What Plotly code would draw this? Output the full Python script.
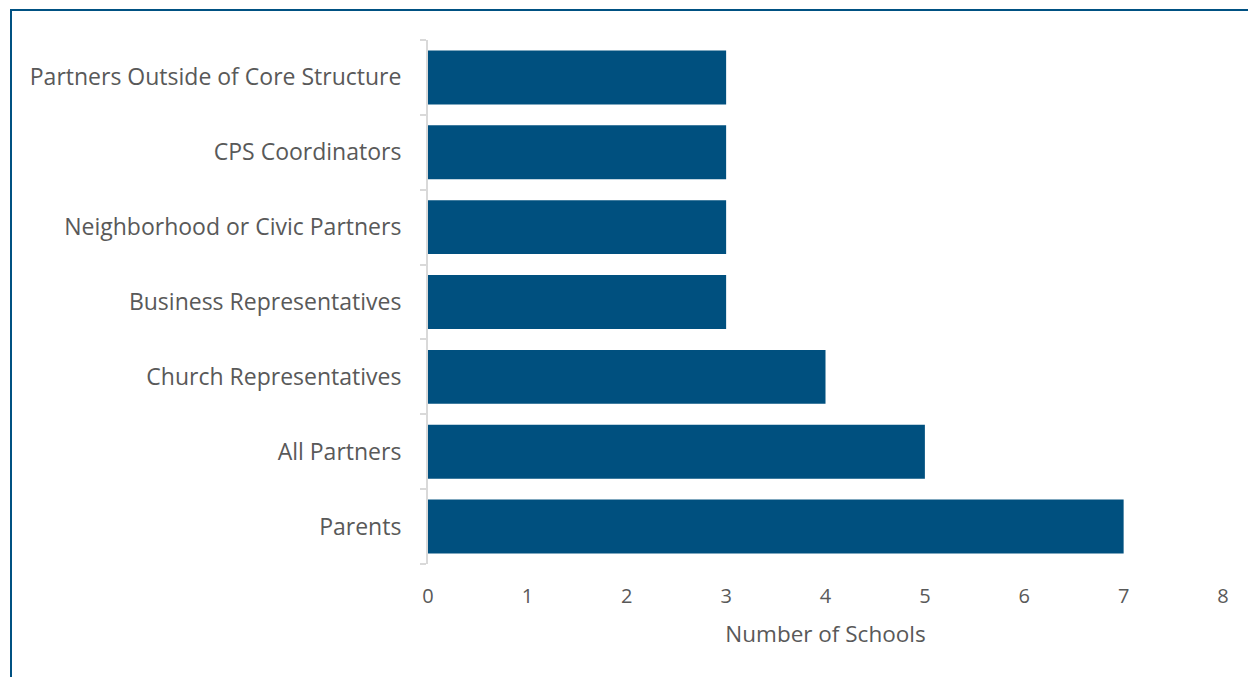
import plotly.graph_objects as go

# Partner groups (bottom to top) and the number of schools reporting each
categories = [
    "Parents",
    "All Partners",
    "Church Representatives",
    "Business Representatives",
    "Neighborhood or Civic Partners",
    "CPS Coordinators",
    "Partners Outside of Core Structure",
]
schools = [7, 5, 4, 3, 3, 3, 3]
x_ticks = [0, 1, 2, 3, 4, 5, 6, 7, 8]

BAR = "#00507f"
TEXT = "#595959"
FONT = "Open Sans, Noto Sans, sans-serif"

W, H = 1248, 677
L, R, T, B = 428, 25, 40, 113
pw, ph = W - L - R, H - T - B

fig = go.Figure(
    go.Bar(
        x=schools,
        y=categories,
        orientation="h",
        marker=dict(color=BAR, line=dict(width=0)),
        width=0.72,
    )
)

fig.update_layout(
    width=W,
    height=H,
    margin=dict(l=L, r=R, t=T, b=B, pad=0),
    paper_bgcolor="white",
    plot_bgcolor="white",
    showlegend=False,
    font=dict(family=FONT, size=22, color=TEXT),
    xaxis=dict(
        range=[0, 8],
        tickvals=x_ticks,
        showgrid=False,
        zeroline=False,
        showline=False,
        ticks="",
        ticklabelstandoff=18,
        tickfont=dict(size=20, color=TEXT),
        title=dict(text="Number of Schools", font=dict(size=22.5, color=TEXT), standoff=18),
    ),
    yaxis=dict(
        type="category",
        range=[-0.5, 6.5],
        showgrid=False,
        zeroline=False,
        showline=True,
        linecolor="#d9d9d9",
        linewidth=2,
        ticks="outside",
        tickson="boundaries",
        ticklen=6,
        tickcolor="#d9d9d9",
        tickwidth=2,
        ticklabelstandoff=20,
        tickfont=dict(size=23, color=TEXT),
    ),
    shapes=[
        # outer frame: left and top edges (the rest runs past the page)
        dict(
            type="rect",
            xref="paper",
            yref="paper",
            x0=(11 - L) / pw,
            x1=(W + 20 - L) / pw,
            y0=-(H + 20 - T - ph) / ph,
            y1=(H - B - 10) / ph,
            line=dict(color="#005182", width=2),
            fillcolor="rgba(0,0,0,0)",
            layer="above",
        )
    ],
)

fig.write_html("out.html")
